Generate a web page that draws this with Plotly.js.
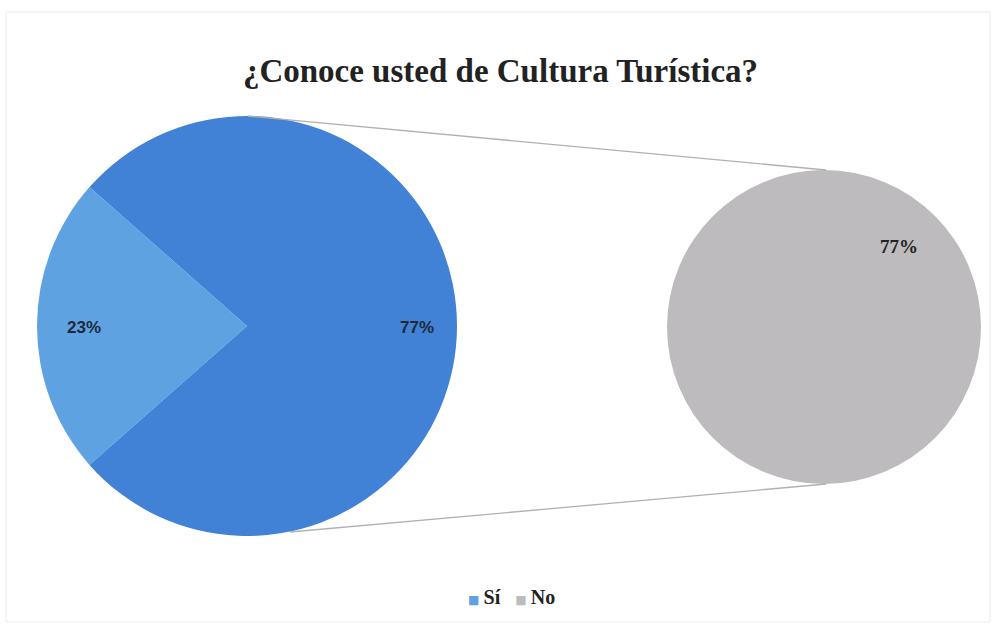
<!DOCTYPE html>
<html>
<head>
<meta charset="utf-8">
<script src="https://cdn.plot.ly/plotly-3.0.1.min.js"></script>
<style>html,body{margin:0;padding:0;background:#fff;}#chart{width:995px;height:626px;}</style>
</head>
<body>
<div id="chart"></div>
<script>
// Data
const categories = ["Sí", "No"];
const mainValues = [23, 77];          // first pie: Sí, group (No)
const secondLabels = ["No"];
const secondValues = [77];            // second pie
const colorSi = "#5ea2e2";
const colorGroup = "#4282d6";
const colorNo = "#bdbbbd";

const W = 995, H = 626;
// pie geometry (pixels)
const L = {cx: 247, cy: 326, r: 210};
const R = {cx: 824, cy: 327, r: 157};
function dom(p){
  return {x: [(p.cx - p.r)/W, (p.cx + p.r)/W], y: [1 - (p.cy + p.r)/H, 1 - (p.cy - p.r)/H]};
}
const total = mainValues.reduce((a,b)=>a+b,0);
const pct = v => Math.round(v/total*100) + "%";
const siAngle = mainValues[0]/total*360;

const traces = [
  {
    type: "pie", values: mainValues, labels: categories, sort: false,
    direction: "clockwise", rotation: 270 - siAngle/2,
    marker: {colors: [colorSi, colorGroup], line: {width: 0}},
    textinfo: "none", showlegend: false, hoverinfo: "label+percent",
    domain: dom(L)
  },
  {
    type: "pie", values: secondValues, labels: secondLabels, sort: false,
    marker: {colors: [colorNo], line: {width: 0}},
    textinfo: "none", showlegend: false, hoverinfo: "label+value",
    domain: dom(R)
  }
];

const px = x => x / W, py = y => 1 - y / H;
const lineColor = "#b5b0b0";
const serif = "Liberation Serif, Times New Roman, serif";
const sq = c => '<span style="color:' + c + ';font-family:DejaVu Sans;font-size:12px">■ </span>';
const legendText = sq(colorSi) + categories[0] + '   ' + sq(colorNo) + categories[1];
const layout = {
  width: W, height: H,
  margin: {l: 0, r: 0, t: 0, b: 0},
  paper_bgcolor: "#ffffff", plot_bgcolor: "rgba(0,0,0,0)",
  title: {text: "¿Conoce usted de Cultura Turística?", x: 0.503, xanchor: "center", y: 1 - 70/H, yanchor: "middle",
          font: {family: serif, size: 33, color: "#222", weight: "bold"}},
  showlegend: false,
  shapes: [
    {type: "line", xref: "paper", yref: "paper", x0: px(248), y0: py(116), x1: px(826), y1: py(170), line: {color: lineColor, width: 1.3}},
    {type: "line", xref: "paper", yref: "paper", x0: px(290), y0: py(532), x1: px(826), y1: py(484), line: {color: lineColor, width: 1.3}},
    {type: "rect", xref: "paper", yref: "paper", x0: px(6), y0: py(12), x1: px(990), y1: py(622), line: {color: "#ececec", width: 1}, layer: "below"}
  ],
  annotations: [
    {text: pct(mainValues[0]), x: px(65), y: py(327), xref: "paper", yref: "paper", showarrow: false,
     font: {family: "Liberation Sans, Arial, sans-serif", size: 17, color: "#1e2a3a", weight: "bold"}},
    {text: pct(mainValues[1]), x: px(417), y: py(327), xref: "paper", yref: "paper", showarrow: false,
     font: {family: "Liberation Sans, Arial, sans-serif", size: 17, color: "#1e2a3a", weight: "bold"}},
    {text: pct(secondValues[0]), x: px(920), y: py(246), xref: "paper", yref: "paper", showarrow: false,
     font: {family: serif, size: 19, color: "#222", weight: "bold"}},
    {text: legendText, x: px(511), y: py(597), xref: "paper", yref: "paper", yanchor: "middle", showarrow: false,
     font: {family: serif, size: 20, color: "#222", weight: "bold"}}
  ]
};
Plotly.newPlot("chart", traces, layout, {displayModeBar: false, staticPlot: true});
</script>
</body>
</html>
